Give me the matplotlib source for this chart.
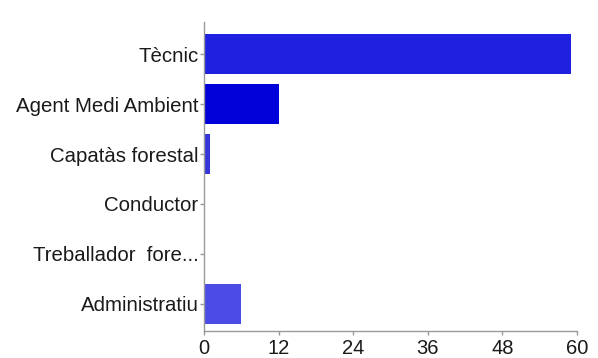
import matplotlib
matplotlib.use("Agg")
import matplotlib.pyplot as plt

categories = ["Tècnic", "Agent Medi Ambient", "Capatàs forestal", "Conductor", "Treballador  fore...", "Administratiu"]
values = [59, 12, 1, 0, 0, 6]
colors = ["#2020e0", "#0000d8", "#3535d8", "#3535d8", "#3535d8", "#4b4be6"]
xticks = [0, 12, 24, 36, 48, 60]

plt.rcParams['font.family'] = ['Liberation Sans', 'DejaVu Sans']
fig = plt.figure(figsize=(5.98, 3.58), dpi=100)
ax = fig.add_axes([204/598, 1-331/358, (577-204)/598, (331-22)/358])
y = list(range(len(categories)))
ax.barh(y, values, height=0.8, color=colors)
ax.set_ylim(5.55, -0.65)
ax.set_xlim(0, 60)
ax.set_yticks(y)
ax.set_yticklabels(categories, fontsize=14.7, color="#1a1a1a")
ax.set_xticks(xticks)
ax.set_xticklabels([str(t) for t in xticks], fontsize=14.5, color="#1a1a1a")
for s in ["top", "right"]:
    ax.spines[s].set_visible(False)
for s in ["left", "bottom"]:
    ax.spines[s].set_color("#999999")
    ax.spines[s].set_linewidth(1)
ax.tick_params(axis="both", length=3, color="#999999", width=1)
ax.tick_params(axis="y", pad=1)
ax.tick_params(axis="x", pad=3)
fig.savefig("out.png", dpi=100)
